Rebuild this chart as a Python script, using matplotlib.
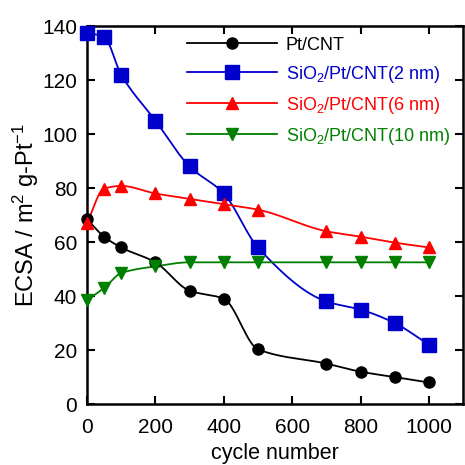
import numpy as np
import matplotlib
matplotlib.use('Agg')
import matplotlib.pyplot as plt

plt.rcParams['font.family'] = ['Liberation Sans', 'DejaVu Sans']
plt.rcParams['mathtext.fontset'] = 'custom'
plt.rcParams['mathtext.rm'] = 'Liberation Sans'
plt.rcParams['mathtext.it'] = 'Liberation Sans:italic'

cycles = [0, 50, 100, 200, 300, 400, 500, 700, 800, 900, 1000]
pt_cnt = [68.5, 62, 58, 52.5, 42, 39, 20.3, 15, 12, 10, 8]
sio2_2nm = [137.5, 136, 122, 105, 88, 78, 58, 38, 35, 30, 22]
sio2_6nm = [67, 79.8, 80.8, 78, 76, 74, 72, 64, 62, 59.8, 58]
sio2_10nm = [38.5, 43, 48.5, 51, 52.5, 52.5, 52.5, 52.5, 52.5, 52.5, 52.5]

labels = ['Pt/CNT', 'SiO$_2$/Pt/CNT(2 nm)', 'SiO$_2$/Pt/CNT(6 nm)', 'SiO$_2$/Pt/CNT(10 nm)']
colors = ['black', '#0000cc', '#ff0000', '#008000']
markers = ['o', 's', '^', 'v']
msizes = [8, 9.5, 8.5, 8.5]


def pchip(x, y, n=400):
    # smooth monotone curve through the points (drawing only)
    x = np.asarray(x, float)
    y = np.asarray(y, float)
    h = np.diff(x)
    d = np.diff(y) / h
    m = np.zeros_like(y)
    for k in range(1, len(x) - 1):
        if d[k - 1] * d[k] > 0:
            w1 = 2 * h[k] + h[k - 1]
            w2 = h[k] + 2 * h[k - 1]
            m[k] = (w1 + w2) / (w1 / d[k - 1] + w2 / d[k])
    m[0] = d[0]
    m[-1] = d[-1]
    xs = np.linspace(x[0], x[-1], n)
    idx = np.clip(np.searchsorted(x, xs) - 1, 0, len(x) - 2)
    t = (xs - x[idx]) / h[idx]
    h00 = 2 * t**3 - 3 * t**2 + 1
    h10 = t**3 - 2 * t**2 + t
    h01 = -2 * t**3 + 3 * t**2
    h11 = t**3 - t**2
    ys = h00 * y[idx] + h10 * h[idx] * m[idx] + h01 * y[idx + 1] + h11 * h[idx] * m[idx + 1]
    return xs, ys


fig = plt.figure(figsize=(4.65, 4.65), dpi=100)
ax = fig.add_axes([0.187, 0.131, 0.809, 0.813])

series = [pt_cnt, sio2_2nm, sio2_6nm, sio2_10nm]
for s, lab, c, mk, ms in zip(series, labels, colors, markers, msizes):
    xs, ys = pchip(cycles, s)
    ax.plot(xs, ys, color=c, lw=1.3, zorder=2)
    ax.plot(cycles, s, ls='none', marker=mk, ms=ms, color=c, zorder=3, clip_on=False)
    ax.plot([], [], color=c, lw=1.3, marker=mk, ms=ms, label=lab)

ax.set_xlim(0, 1100)
ax.set_ylim(0, 140)
ax.set_xticks([0, 200, 400, 600, 800, 1000])
ax.set_yticks(range(0, 141, 20))
ax.tick_params(direction='in', top=True, right=True, labelsize=15, width=1.5, length=6)
ax.tick_params(axis='x', pad=10)
ax.tick_params(axis='y', pad=7)
for sp in ax.spines.values():
    sp.set_linewidth(1.8)

ax.set_xlabel('cycle number', fontsize=15.5, labelpad=4)
ax.set_ylabel('ECSA / m$^2$ g-Pt$^{-1}$', fontsize=17, labelpad=1)

leg = ax.legend(loc='upper right', bbox_to_anchor=(1.0, 1.005), frameon=False, fontsize=13,
                handlelength=5.0, handletextpad=0.5, labelspacing=0.55, borderaxespad=0.3)
for txt, c in zip(leg.get_texts(), colors):
    txt.set_color(c)

fig.savefig('out.png', dpi=100)
